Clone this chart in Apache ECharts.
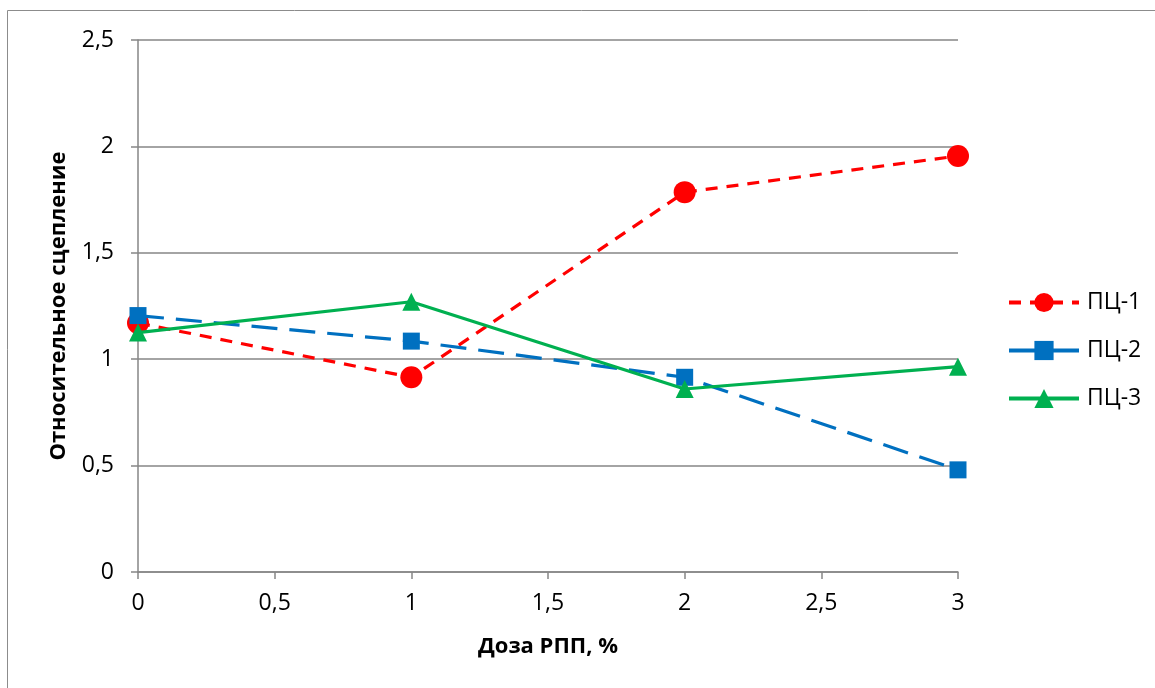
<!DOCTYPE html>
<html><head><meta charset="utf-8">
<script src="https://cdn.jsdelivr.net/npm/echarts@6/dist/echarts.min.js"></script>
<style>html,body{margin:0;padding:0;background:#fff}#c{width:1155px;height:688px}</style>
</head><body><div id="c"></div>
<script>
const xValues = [0, 1, 2, 3];
const pc1 = [1.17, 0.915, 1.785, 1.955];
const pc2 = [1.205, 1.085, 0.915, 0.48];
const pc3 = [1.125, 1.27, 0.86, 0.965];
const seriesNames = ['ПЦ-1', 'ПЦ-2', 'ПЦ-3'];
const xTitle = 'Доза РПП, %';
const yTitle = 'Относительное сцепление';

const fmt = v => String(v).replace('.', ',');
const pairs = arr => xValues.map((x, i) => [x, arr[i]]);
const font = '"Open Sans", "Liberation Sans", sans-serif';

const chart = echarts.init(document.getElementById('c'), null, {renderer: 'canvas'});
chart.setOption({
  animation: false,
  textStyle: {fontFamily: font},
  graphic: [{type: 'rect', shape: {x: 7.5, y: 10.5, width: 1160, height: 690}, style: {fill: 'none', stroke: '#8c8c8c', lineWidth: 1}, z: -1}],
  grid: {left: 138, right: 197, top: 40, bottom: 116, containLabel: false},
  xAxis: {
    type: 'value', min: 0, max: 3, interval: 0.5,
    name: xTitle, nameLocation: 'middle', nameGap: 64,
    nameTextStyle: {fontSize: 22, fontWeight: 'bold', color: '#000', fontFamily: font},
    axisLine: {show: true, lineStyle: {color: '#868686', width: 1.5}},
    axisTick: {show: true, length: 7, lineStyle: {color: '#868686', width: 1.5}},
    axisLabel: {formatter: fmt, fontSize: 23, color: '#000', margin: 20},
    splitLine: {show: false}
  },
  yAxis: {
    type: 'value', min: 0, max: 2.5, interval: 0.5,
    name: yTitle, nameLocation: 'middle', nameGap: 68, nameRotate: 90,
    nameTextStyle: {fontSize: 22, fontWeight: 'bold', color: '#000', fontFamily: font},
    axisLine: {show: true, lineStyle: {color: '#868686', width: 1.5}},
    axisTick: {show: true, length: 7, lineStyle: {color: '#868686', width: 1.5}},
    axisLabel: {formatter: fmt, fontSize: 23, color: '#000', margin: 24},
    splitLine: {show: true, lineStyle: {color: '#868686', width: 1.5}}
  },
  legend: {
    orient: 'vertical', left: 1007, top: 291, padding: 0, itemGap: 25, itemWidth: 70, itemHeight: 24,
    textStyle: {fontSize: 23, color: '#000', padding: [0, 0, 0, 3]},
    lineStyle: {width: 4},
    data: [
      {name: seriesNames[0]},
      {name: seriesNames[1], lineStyle: {type: 'solid', width: 4}},
      {name: seriesNames[2]}
    ]
  },
  series: [
    {name: seriesNames[0], type: 'line', data: pairs(pc1), symbol: 'circle', symbolSize: 22,
     itemStyle: {color: '#ff0000'}, lineStyle: {color: '#ff0000', width: 3.2, type: [12, 9]}, z: 3},
    {name: seriesNames[1], type: 'line', data: pairs(pc2), symbol: 'rect', symbolSize: 17,
     itemStyle: {color: '#0070c0', borderRadius: 2}, lineStyle: {color: '#0070c0', width: 3.2, type: [26, 12]}, z: 4},
    {name: seriesNames[2], type: 'line', data: pairs(pc3), symbol: 'triangle', symbolSize: 18,
     itemStyle: {color: '#00b050'}, lineStyle: {color: '#00b050', width: 3.2}, z: 5}
  ]
});
</script></body></html>
